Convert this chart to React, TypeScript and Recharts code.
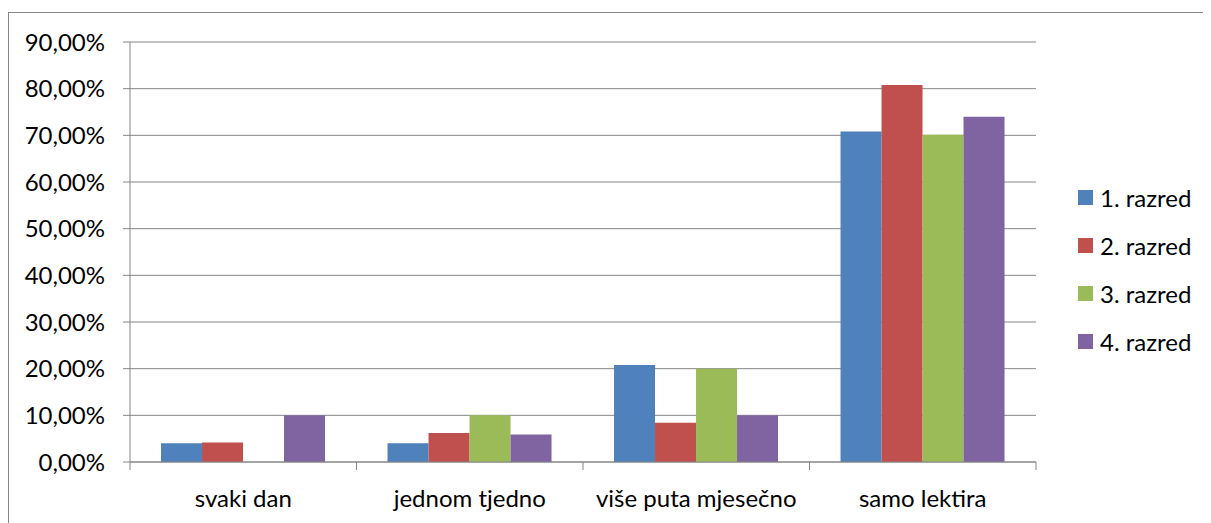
import React from 'react';
import { BarChart, Bar, XAxis, YAxis, CartesianGrid, Legend } from 'recharts';

const categories = ['svaki dan', 'jednom tjedno', 'više puta mjesečno', 'samo lektira'];
const razred1 = [4.0, 4.0, 20.8, 70.8];
const razred2 = [4.2, 6.2, 8.4, 80.8];
const razred3 = [0, 10.0, 20.0, 70.1];
const razred4 = [10.0, 5.9, 10.0, 74.0];
const yTicks = [0, 10, 20, 30, 40, 50, 60, 70, 80, 90];

const seriesNames = ['1. razred', '2. razred', '3. razred', '4. razred'];
const seriesColors = ['#4F81BD', '#C0504D', '#9BBB59', '#8064A2'];

const data = categories.map((name, i) => ({
  name,
  r1: razred1[i],
  r2: razred2[i],
  r3: razred3[i],
  r4: razred4[i],
}));

const FONT = 'Lato, "Open Sans", sans-serif';
const FONT_SIZE = 24;
const GREY = '#868686';

// plot area in chart coordinates
const PLOT_LEFT = 121;
const PLOT_RIGHT = 1027;
const PLOT_BOTTOM = 449;
const BAND = (PLOT_RIGHT - PLOT_LEFT) / categories.length;

const CategoryTick = (props: any) => {
  const { x, payload, index } = props;
  const left = x - BAND / 2;
  return (
    <g>
      <line x1={left} y1={PLOT_BOTTOM} x2={left} y2={PLOT_BOTTOM + 8} stroke={GREY} />
      {index === categories.length - 1 && (
        <line x1={x + BAND / 2} y1={PLOT_BOTTOM} x2={x + BAND / 2} y2={PLOT_BOTTOM + 8} stroke={GREY} />
      )}
      <text
        x={x}
        y={PLOT_BOTTOM + 35}
        textAnchor="middle"
        dominantBaseline="central"
        fill="#000"
        fontSize={FONT_SIZE}
        fontFamily={FONT}
      >
        {payload.value}
      </text>
    </g>
  );
};

const LegendContent = () => (
  <div style={{ fontFamily: FONT, fontSize: FONT_SIZE, color: '#000' }}>
    {seriesNames.map((n, i) => (
      <div key={n} style={{ display: 'flex', alignItems: 'center', height: 48 }}>
        <span
          style={{
            display: 'inline-block',
            width: 15,
            height: 15,
            background: seriesColors[i],
            marginRight: 7,
          }}
        />
        <span>{n}</span>
      </div>
    ))}
  </div>
);

export default function App() {
  return (
    <div
      style={{
        marginTop: 4,
        width: 1203,
        height: 511,
        borderLeft: `1px solid ${GREY}`,
        borderTop: `1px solid ${GREY}`,
        background: '#fff',
      }}
    >
      <BarChart
        width={1200}
        height={510}
        data={data}
        margin={{ top: 29, right: 43, bottom: 0, left: 0 }}
        barCategoryGap="13.7%"
        barGap={0}
      >
        <CartesianGrid vertical={false} stroke={GREY} strokeWidth={1} />
        <XAxis
          dataKey="name"
          height={61}
          axisLine={{ stroke: GREY }}
          tickLine={false}
          tickSize={0}
          tick={<CategoryTick />}
          interval={0}
        />
        <YAxis
          width={121}
          domain={[0, 90]}
          ticks={yTicks}
          interval={0}
          axisLine={{ stroke: GREY }}
          tickLine={{ stroke: GREY }}
          tickSize={7}
          tickMargin={18}
          tick={{ fill: '#000', fontSize: FONT_SIZE, fontFamily: FONT }}
          tickFormatter={(v: number) => v.toFixed(2).replace('.', ',') + '%'}
        />
        <Legend
          layout="vertical"
          align="right"
          verticalAlign="middle"
          content={<LegendContent />}
          wrapperStyle={{ width: 130, left: 1069, top: 160 }}
        />
        <Bar dataKey="r1" name={seriesNames[0]} fill={seriesColors[0]} isAnimationActive={false} />
        <Bar dataKey="r2" name={seriesNames[1]} fill={seriesColors[1]} isAnimationActive={false} />
        <Bar dataKey="r3" name={seriesNames[2]} fill={seriesColors[2]} isAnimationActive={false} />
        <Bar dataKey="r4" name={seriesNames[3]} fill={seriesColors[3]} isAnimationActive={false} />
      </BarChart>
    </div>
  );
}
